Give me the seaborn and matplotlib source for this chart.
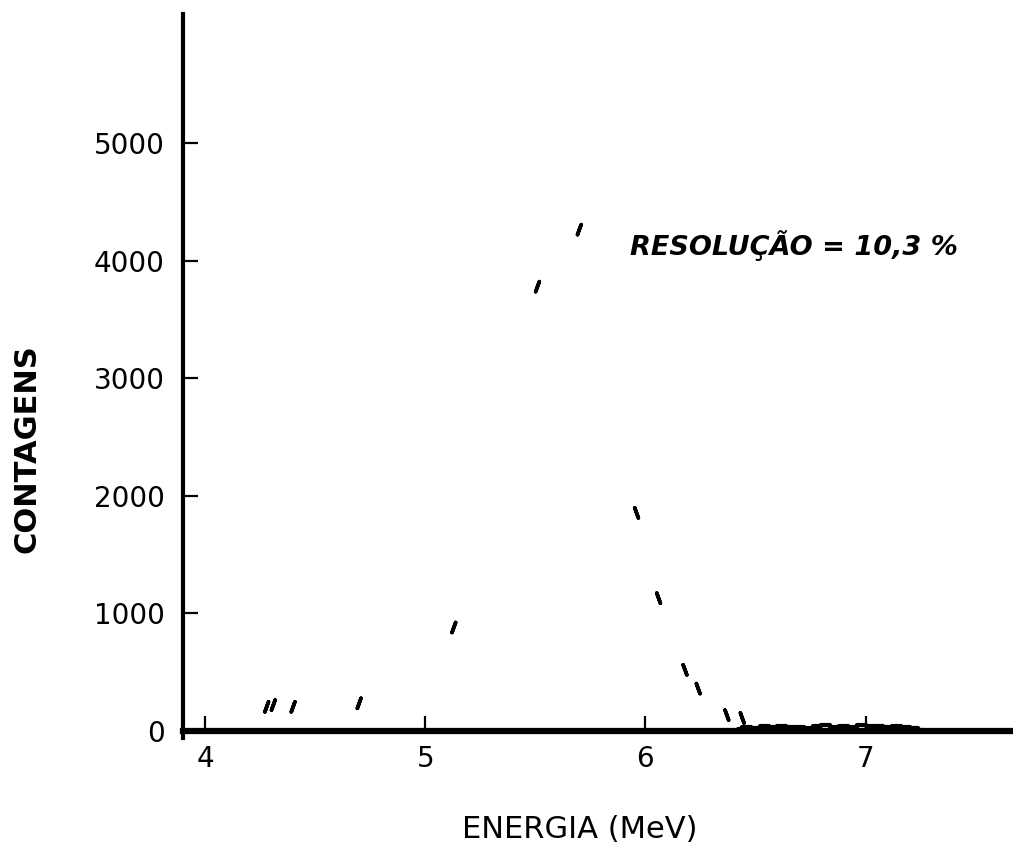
import numpy as np
import pandas as pd
import seaborn as sns
import matplotlib.pyplot as plt

# pontos do espectro alfa que sobreviveram na copia
energia = [4.28, 4.31, 4.40, 4.70, 5.13, 5.51, 5.70, 5.96, 6.06, 6.18, 6.24, 6.37, 6.44]
contagens = [205, 220, 205, 235, 880, 3780, 4265, 1855, 1130, 520, 360, 135, 110]

# fundo ruidoso depois do pico
ruido_energia = [6.42, 6.46, 6.50, 6.54, 6.58, 6.62, 6.66, 6.70, 6.74, 6.78, 6.82,
                 6.86, 6.90, 6.94, 6.98, 7.02, 7.06, 7.10, 7.14, 7.18, 7.22, 7.26]
ruido_contagens = [20, 35, 25, 40, 30, 45, 30, 35, 25, 40, 50,
                   35, 45, 30, 50, 40, 45, 35, 40, 30, 25, 10]

x_ticks = [4, 5, 6, 7]
y_ticks = [0, 1000, 2000, 3000, 4000, 5000]

sns.set_style('white')
plt.rcParams['font.family'] = ['DejaVu Sans']
plt.rcParams['text.color'] = 'black'
plt.rcParams['axes.labelcolor'] = 'black'

fig = plt.figure(figsize=(10.13, 8.43), dpi=100)
ax = fig.add_axes([0.1807, 0.1246, 0.8193, 0.8588])

peak = pd.DataFrame({"energia": energia, "contagens": contagens})
energia_pico = energia[int(np.argmax(contagens))]
peak["lado"] = np.where(peak["energia"] <= energia_pico, "sobe", "desce")

sns.scatterplot(data=peak, x="energia", y="contagens", style="lado",
                markers={"sobe": (2, 2, -20), "desce": (2, 2, 20)},
                color="black", s=60, linewidth=2.6, legend=False, ax=ax)

sns.lineplot(x=ruido_energia, y=ruido_contagens, color="black", lw=3,
             drawstyle="steps-mid", ax=ax)

ax.set_xlim(3.9, 7.67)
ax.set_ylim(-60, 6100)

for side in ["top", "right"]:
    ax.spines[side].set_visible(False)
ax.spines["bottom"].set_position(("data", 0))
ax.spines["bottom"].set_linewidth(4.5)
ax.spines["left"].set_linewidth(3)
ax.spines["bottom"].set_color("black")
ax.spines["left"].set_color("black")

ax.set_xticks(x_ticks)
ax.set_xticklabels([str(t) for t in x_ticks])
ax.set_yticks(y_ticks)
ax.set_yticklabels([str(t) for t in y_ticks])
ax.tick_params(axis="both", direction="in", length=11, width=1.6, colors="black",
               labelsize=20)
ax.tick_params(axis="x", pad=10.5, bottom=True)
ax.tick_params(axis="y", pad=13, left=True)

ax.set_xlabel("ENERGIA (MeV)", fontsize=22)
ax.xaxis.set_label_coords(0.478, -0.106)
ax.set_ylabel("CONTAGENS", fontsize=22, fontweight="bold")
ax.yaxis.set_label_coords(-0.17, 0.399)

ax.text(5.93, 4128, "RESOLUÇÃO = 10,3 %", fontsize=19.5, fontweight="bold",
        fontstyle="italic", ha="left", va="center")

plt.savefig("out.png", dpi=100)
